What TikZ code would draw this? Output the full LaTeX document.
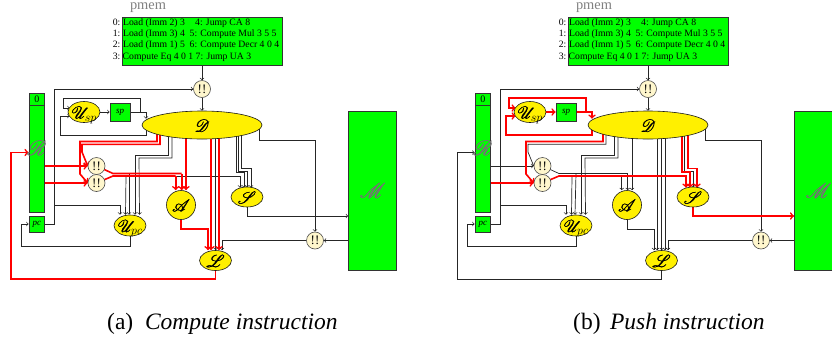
\documentclass[tikz,border=0pt]{standalone}
\usepackage{fontspec}
\usepackage{mathrsfs}
\setmainfont{Liberation Serif}
\usetikzlibrary{shapes.geometric,backgrounds}
\definecolor{unitgreen}{RGB}{0,255,0}
\definecolor{unityellow}{RGB}{255,240,0}
\definecolor{opcream}{RGB}{255,247,205}
\def\lbl#1{\makebox[0pt]{\raisebox{-.36em}[0pt][0pt]{\special{pdf:literal 2 Tr 0.2 w}$#1$\special{pdf:literal 0 Tr}}}}
\def\subl#1{_{\special{pdf:literal 0 Tr}#1}}
\tikzset{
	wire/.style={line width=0.7pt, color=black!85, ->, >=to},
	hot/.style={line width=1.6pt, color=red, ->, >=to},
	plainwire/.style={line width=0.7pt, color=black!85},
	plainhot/.style={line width=1.6pt, color=red},
	store/.style={draw=black!80, fill=unitgreen, line width=0.8pt, inner sep=0pt},
	alu/.style={draw=black!90, fill=unityellow, ellipse, line width=0.6pt, inner sep=0pt, minimum width=32pt, minimum height=21pt, font=\fontsize{18}{18}\selectfont},
	sel/.style={draw=black!70, fill=opcream, circle, line width=0.6pt, inner sep=0pt, minimum size=17pt, font=\fontsize{13}{13}\selectfont},
	row/.style={inner sep=0pt, anchor=base west, font=\fontsize{9.7}{10}\selectfont},
	rownum/.style={inner sep=0pt, anchor=base east, font=\fontsize{9.7}{10}\selectfont},
	caption/.style={inner sep=0pt, anchor=base west, font=\fontsize{23.5}{24}\selectfont},
}
% the units shared by both drawings
\newcommand{\machineunits}{
	\node[store, minimum width=160pt, minimum height=48pt] (pmem) at (202, 41) {};
	\node[inner sep=0pt, color=black!50, font=\fontsize{14.4}{15}\selectfont] (pmemname) at (148, 8) {pmem};
	\node[rownum] (n0) at (120.5, 25) {0:};
	\node[rownum] (n1) at (120.5, 36) {1:};
	\node[rownum] (n2) at (120.5, 47.5) {2:};
	\node[rownum] (n3) at (120.5, 59) {3:};
	\node[row] (i0) at (123, 25) {Load (Imm 2) 3};
	\node[row] (i1) at (123, 36) {Load (Imm 3) 4};
	\node[row] (i2) at (123, 47.5) {Load (Imm 1) 5};
	\node[row] (i3) at (122.5, 59) {Compute Eq 4 0 1 7: Jump UA 3};
	\node[row] (i4) at (195, 25) {4: Jump CA 8};
	\node[row] (i5) at (189.5, 36) {5: Compute Mul 3 5 5};
	\node[row] (i6) at (189.5, 47.5) {6: Compute Decr 4 0 4};
	%
	\node[sel] (top) at (202, 89) {!!};
	\node[alu, minimum width=120pt, minimum height=28pt] (D) at (202, 125) {\lbl{\mathscr{D}}};
	\node[store, minimum width=15.5pt, minimum height=12pt] (zero) at (36.75, 99) {\fontsize{10}{10}\selectfont 0};
	\node[store, minimum width=15.5pt, minimum height=107pt] (R) at (36.75, 158.5) {};
	\node[inner sep=0pt, font=\fontsize{20}{20}\selectfont, color=black!55] (Rname) at (36.75, 148) {\lbl{\mathscr{R}}};
	\node[store, minimum width=15.5pt, minimum height=16pt] (pc) at (36.75, 224) {\fontsize{9}{9}\selectfont\itshape pc};
	\node[alu] (Usp) at (84, 112) {\lbl{\mathscr{U}\subl{sp}}};
	\node[store, minimum width=20pt, minimum height=18pt] (sp) at (120, 112) {\fontsize{9}{9}\selectfont\itshape sp};
	\node[sel] (high) at (96.5, 166) {!!};
	\node[sel] (low) at (96.5, 183) {!!};
	\node[alu, circle, minimum size=29pt] (A) at (181, 205) {\lbl{\mathscr{A}}};
	\node[alu] (Upc) at (130, 225.5) {\lbl{\mathscr{U}\subl{pc}}};
	\node[alu, minimum height=20pt] (S) at (247, 197) {\lbl{\mathscr{S}}};
	\node[alu, minimum height=20pt] (L) at (215.5, 260.5) {\lbl{\mathscr{L}}};
	\node[sel] (mux) at (315, 240.5) {!!};
	\node[store, minimum width=48pt, minimum height=159pt] (M) at (372.5, 190.5) {\fontsize{20}{20}\selectfont\color{black!55}\lbl{\mathscr{M}}};
}
\begin{document}
\begin{tikzpicture}[x=1pt, y=-1pt]
	\useasboundingbox (0, 0) rectangle (832, 341);
	\clip (0, 0) rectangle (832, 341);

	%%% compute
	\begin{scope}[name prefix=a-]
		\machineunits
		\begin{scope}[on background layer]
			\draw[wire] (pmem.south -| top) -- (top.north);
			\draw[wire] (top.south) -- (top |- D.north);
			\draw[wire] ([xshift=7.5pt]pc.center) -- (54, 224) -- (54, 89) -- (top.west);
			\draw[wire] (54, 205.5) -- (120, 205.5) -- ([xshift=-10pt]Upc.north);
			\draw[wire] (Usp.east) -- (sp.west);
			\draw[wire] (sp.east) -- (140, 112) -- (140, 98) -- (63, 98) -- (63, 108) -- ([xshift=2pt,yshift=4pt]Usp.west);
			\draw[wire] (sp.east) -- (146, 112) -- ([xshift=-56pt,yshift=-8pt]D.north);
			\draw[wire] ([xshift=-56pt]D.center) -- (146, 135) -- (60, 135) -- (60, 116) -- ([xshift=2pt,yshift=-4pt]Usp.west);
			\draw[wire] ([xshift=-33.5pt]D.center) -- (168.5, 155) -- (135, 155) -- ([xshift=5pt]Upc.north);
			\draw[wire] ([xshift=-30pt]D.center) -- (172, 158) -- (139, 158) -- ([xshift=9.5pt]Upc.north);
			\draw[wire] (113, 176) -- (126, 176) -- ([xshift=-4.5pt]Upc.north);
			\draw[wire] (113, 173.5) -- (129, 173.5) -- ([xshift=-1pt]Upc.north);
			\draw[wire] (113, 176) -- (240, 176) -- ([xshift=-7pt,yshift=-1pt]S.north);
			\draw[wire] ([xshift=34pt]D.center) -- (236, 172) -- (244, 172) -- ([xshift=-3pt,yshift=-1pt]S.north);
			\draw[wire] ([xshift=36.7pt]D.center) -- (238.7, 171) -- (247, 171) -- ([yshift=-1pt]S.north);
			\draw[wire] ([xshift=39.7pt]D.center) -- (241.7, 168.5) -- (251, 168.5) -- ([xshift=4pt,yshift=-1pt]S.north);
			\draw[wire] ([xshift=13.7pt]D.center) -- ([xshift=0.2pt]L.north);
			\draw[wire] (S.south) -- (247, 216) -- (M.west |- 0, 216);
			\draw[wire] ([xshift=57pt]D.center) -- (259, 140) -- (315, 140) -- (mux.north);
			\draw[wire] (M.west |- mux) -- (mux.east);
			\draw[wire] (mux.west) -- (222, 240.5) -- ([xshift=6.5pt]L.north);
			\draw[wire] (Upc.south) -- (130, 246) -- (21, 246) -- (21, 224) -- (pc.west);
			% red part
			\draw[hot] ([xshift=-45pt]D.center) -- (157, 141.5) -- (80, 141.5) -- (80, 174) -- (low.west);
			\draw[hot] ([xshift=-42pt]D.center) -- (160, 144.3) -- (82, 144.3) -- (82, 152) -- (high.west);
			\draw[hot] (R.east |- high) -- (high.west);
			\draw[hot] (R.east |- low) -- (low.west);
			\draw[plainhot] (high.center) -- (113, 173.5) -- (181.7, 173.5);
			\draw[plainhot] (low.center) -- (113, 176) -- (175.7, 176);
			\draw[hot] (181.7, 173.5) -- ([xshift=0.7pt]A.north);
			\draw[hot] (175.7, 176) -- ([xshift=-5.3pt]A.north);
			\draw[hot] ([xshift=-16pt]D.center) -- ([xshift=5pt]A.north);
			\draw[hot] (A.south) -- (181, 229) -- (208, 229) -- ([xshift=-7.5pt]L.north);
			\draw[hot] ([xshift=9pt]D.center) -- ([xshift=-4.5pt]L.north);
			\draw[hot] ([xshift=17pt]D.center) -- ([xshift=3.5pt]L.north);
			\draw[hot] (L.south) -- (215.5, 279) -- (11, 279) -- (11, 152.5) -- (R.west |- 0, 152.5);
		\end{scope}
		\node[caption] (acap) at (107, 329) {(a)\hspace{0.5em}\textit{Compute instruction}};
	\end{scope}

	%%% push
	\begin{scope}[shift={(446, 0)}, name prefix=b-]
		\machineunits
		\begin{scope}[on background layer]
			\draw[wire] (pmem.south -| top) -- (top.north);
			\draw[wire] (top.south) -- (top |- D.north);
			\draw[wire] ([xshift=7.5pt]pc.center) -- (54, 224) -- (54, 89) -- (top.west);
			\draw[wire] (54, 205.5) -- (120, 205.5) -- ([xshift=-10pt]Upc.north);
			\draw[wire] ([xshift=-42pt]D.center) -- (160, 144.3) -- (82, 144.3) -- (82, 152) -- (high.west);
			\draw[wire] (R.east |- high) -- (high.west);
			\draw[wire] ([xshift=-33.5pt]D.center) -- (168.5, 155) -- (135, 155) -- ([xshift=5pt]Upc.north);
			\draw[wire] ([xshift=-30pt]D.center) -- (172, 158) -- (139, 158) -- ([xshift=9.5pt]Upc.north);
			\draw[wire] (113, 176) -- (126, 176) -- ([xshift=-4.5pt]Upc.north);
			\draw[plainwire] (high.center) -- (113, 173.5);
			\draw[wire] (113, 173.5) -- (130, 173.5) -- ([xshift=-1pt]Upc.north);
			\draw[wire] (113, 173.5) -- (181.7, 173.5) -- ([xshift=0.7pt]A.north);
			\draw[wire] (175.7, 176) -- ([xshift=-5.3pt]A.north);
			\draw[wire] ([xshift=-16pt]D.center) -- ([xshift=5pt]A.north);
			\draw[wire] (A.south) -- (181, 229) -- (208, 229) -- ([xshift=-7.5pt]L.north);
			\draw[wire] ([xshift=9pt]D.center) -- ([xshift=-4.5pt]L.north);
			\draw[wire] ([xshift=13.7pt]D.center) -- ([xshift=0.2pt]L.north);
			\draw[wire] ([xshift=17pt]D.center) -- ([xshift=3.5pt]L.north);
			\draw[wire] ([xshift=36.7pt]D.center) -- (238.7, 171) -- (247, 171) -- ([yshift=-1pt]S.north);
			\draw[wire] ([xshift=57pt]D.center) -- (259, 140) -- (315, 140) -- (mux.north);
			\draw[wire] (M.west |- mux) -- (mux.east);
			\draw[wire] (mux.west) -- (222, 240.5) -- ([xshift=6.5pt]L.north);
			\draw[wire] (Upc.south) -- (130, 246) -- (21, 246) -- (21, 224) -- (pc.west);
			\draw[wire] (L.south) -- (215.5, 279) -- (11, 279) -- (11, 152.5) -- (R.west |- 0, 152.5);
			% red part
			\draw[hot] (Usp.east) -- (sp.west);
			\draw[hot] (sp.east) -- (140, 112) -- (140, 98) -- (63, 98) -- (63, 108) -- ([xshift=2pt,yshift=4pt]Usp.west);
			\draw[hot] (sp.east) -- (146, 112) -- ([xshift=-56pt,yshift=-8pt]D.north);
			\draw[hot] ([xshift=-56pt]D.center) -- (146, 135) -- (60, 135) -- (60, 116) -- ([xshift=2pt,yshift=-4pt]Usp.west);
			\draw[hot] ([xshift=-45pt]D.center) -- (157, 141.5) -- (80, 141.5) -- (80, 174) -- (low.west);
			\draw[hot] (R.east |- low) -- (low.west);
			\draw[hot] (low.center) -- (113, 176) -- (240, 176) -- ([xshift=-7pt,yshift=-1pt]S.north);
			\draw[hot] ([xshift=34pt]D.center) -- (236, 172) -- (244, 172) -- ([xshift=-3pt,yshift=-1pt]S.north);
			\draw[hot] ([xshift=39.7pt]D.center) -- (241.7, 168.5) -- (251, 168.5) -- ([xshift=4pt,yshift=-1pt]S.north);
			\draw[hot] (S.south) -- (247, 216) -- (M.west |- 0, 216);
		\end{scope}
		\node[caption] (bcap) at (127, 329) {(b)\hspace{0.4em}\textit{Push instruction}};
	\end{scope}
\end{tikzpicture}
\end{document}
